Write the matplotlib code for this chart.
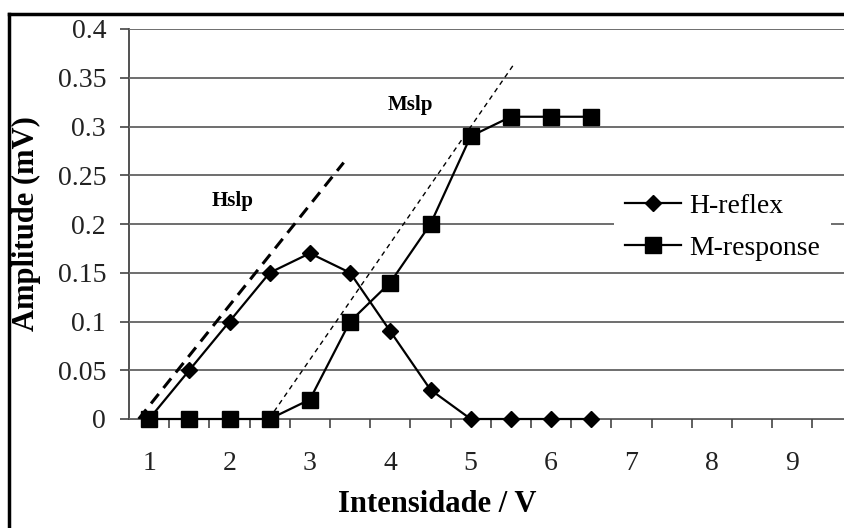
import matplotlib
matplotlib.use("Agg")
import matplotlib.pyplot as plt
from matplotlib.lines import Line2D
import numpy as np

plt.rcParams['font.family'] = ['Liberation Serif', 'DejaVu Serif']

# dados
intensidade = [1, 1.5, 2, 2.5, 3, 3.5, 4, 4.5, 5, 5.5, 6, 6.5]
h_reflex = [0, 0.05, 0.10, 0.15, 0.17, 0.15, 0.09, 0.03, 0, 0, 0, 0]
m_response = [0, 0, 0, 0, 0.02, 0.10, 0.14, 0.20, 0.29, 0.31, 0.31, 0.31]
x_labels = [1, 2, 3, 4, 5, 6, 7, 8, 9]
y_ticks = [0, 0.05, 0.1, 0.15, 0.2, 0.25, 0.3, 0.35, 0.4]

# retas de declive (Hslp, Mslp)
hslp_x = [0.87, 3.42]
hslp_y = [0.0, 0.263]
mslp_x = [2.49, 5.53]
mslp_y = [0.0, 0.363]

W, H = 844, 528
fig = plt.figure(figsize=(W / 100, H / 100), dpi=100)
fig.patch.set_facecolor('white')
ax = fig.add_axes([129 / W, 1 - 419 / H, (W - 129) / W, (419 - 29) / H])

ax.set_xlim(0.75, 0.75 + (W - 129) / 80.4)
ax.set_ylim(0, 0.4)

# grade horizontal
ax.set_yticks(y_ticks)
ax.set_yticklabels([('%g' % v) for v in y_ticks])
ax.yaxis.grid(True, color='#6e6e6e', linewidth=1.4)
ax.set_axisbelow(False)

ax.set_xticks(x_labels)
ax.set_xticklabels([str(v) for v in x_labels])
ax.set_xticks(np.arange(1.25, 9.7, 0.5), minor=True)
ax.tick_params(axis='x', which='major', length=0, pad=23, labelsize=20, colors='#222222')
ax.tick_params(axis='x', which='minor', length=6.5, width=1.2, color='#444444')
ax.tick_params(axis='y', which='major', length=6.5, width=1.2, pad=10, labelsize=20,
               color='#444444', labelcolor='#222222')

for s in ['top', 'right']:
    ax.spines[s].set_visible(False)
ax.spines['left'].set_color('#333333')
ax.spines['left'].set_linewidth(1.2)
ax.spines['bottom'].set_color('#555555')
ax.spines['bottom'].set_linewidth(1.3)

# séries
ax.plot(intensidade, h_reflex, color='black', linewidth=1.6, marker='D',
        markersize=8, label='H-reflex', zorder=4, clip_on=False)
ax.plot(intensidade, m_response, color='black', linewidth=1.6, marker='s',
        markersize=11, label='M-response', zorder=4, clip_on=False)

# retas tracejadas
ax.plot(hslp_x, hslp_y, color='black', linewidth=2.2, dashes=(4, 2.5), zorder=3)
ax.plot(mslp_x, mslp_y, color='black', linewidth=1.0, dashes=(3.5, 3), zorder=3)

ax.text(2.04, 0.2236, 'Hslp', fontsize=15, fontweight='bold', ha='center', va='center',
        bbox=dict(boxstyle='square,pad=0.6', facecolor='white', edgecolor='none'), zorder=2)
ax.text(4.245, 0.322, 'Mslp', fontsize=15, fontweight='bold', ha='center', va='center',
        bbox=dict(boxstyle='square,pad=0.6', facecolor='white', edgecolor='none'), zorder=2)

ax.set_xlabel('Intensidade / V', fontsize=22, fontweight='bold', va='center')
ax.xaxis.set_label_coords((437 - 129) / (W - 129), -(505 - 419) / (419 - 29))
ax.set_ylabel('Amplitude (mV)', fontsize=22, fontweight='bold', va='center')
ax.yaxis.set_label_coords(-(129 - 26) / (W - 129), (419 - 224) / (419 - 29))

leg = fig.legend(loc='center left', bbox_to_anchor=(600 / W, 1 - 227 / H), fontsize=20,
                 frameon=True, facecolor='white', edgecolor='none', framealpha=1,
                 handlelength=2.0, handletextpad=0.3, labelspacing=0.6,
                 borderpad=0.4, fancybox=False)

# moldura preta do gráfico (cortada à direita e em baixo)
fig.add_artist(Line2D([9 / W, 1], [1 - 13.5 / H, 1 - 13.5 / H], color='black',
                      linewidth=2.5, transform=fig.transFigure))
fig.add_artist(Line2D([9 / W, 9 / W], [0, 1 - 13.5 / H], color='black',
                      linewidth=2.5, transform=fig.transFigure))

fig.savefig('out.png', dpi=100, facecolor='white')
plt.close()
